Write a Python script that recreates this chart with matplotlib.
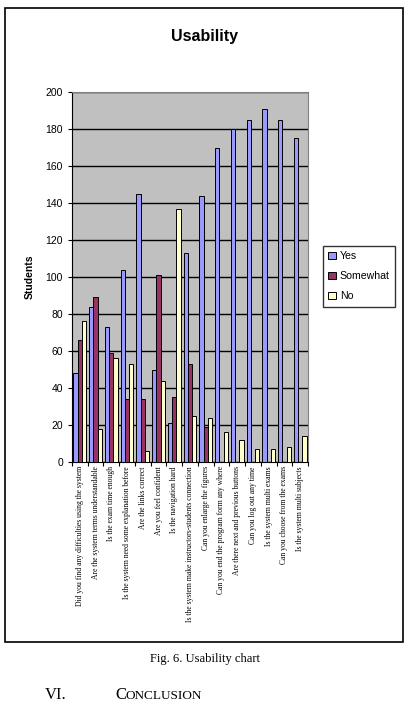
import matplotlib.pyplot as plt
import numpy as np

questions = ['Did you find any difficulties using the system',
             'Are the system terms understandable',
             'Is the exam time enough',
             'Is the system need some explanation before',
             'Are the links correct',
             'Are you feel confident',
             'Is the navigation hard',
             'Is the system make instructors-students connection',
             'Can you enlarge the figures',
             'Can you end the program form any where',
             'Are there next and previous buttons',
             'Can you log out any time',
             'Is the system multi exams',
             'Can you choose from the exams',
             'Is the system multi subjects']
yes = [48, 84, 73, 104, 145, 50, 21, 113, 144, 170, 180, 185, 191, 185, 175]
somewhat = [66, 89, 59, 34, 34, 101, 35, 53, 19, 0, 0, 0, 0, 0, 0]
no = [76, 18, 56, 53, 6, 44, 137, 25, 24, 16, 12, 7, 7, 8, 14]

fig = plt.figure(figsize=(4.16, 7.06), dpi=100)

# outer frame of the chart
fig.patches.append(plt.Rectangle((5/416, 1-642/706), 398/416, 634/706, transform=fig.transFigure,
                                 fill=False, edgecolor='black', linewidth=1.2))

ax = fig.add_axes([72/416, 1-462/706, 236/416, 370/706])
ax.set_facecolor('#C0C0C0')

x = np.arange(len(questions)) + 0.5
w = 0.27
ax.bar(x - w, yes, w, color='#9999FF', edgecolor='black', linewidth=0.7, label='Yes', zorder=3)
ax.bar(x, somewhat, w, color='#993366', edgecolor='black', linewidth=0.7, label='Somewhat', zorder=3)
ax.bar(x + w, no, w, color='#FFFFCC', edgecolor='black', linewidth=0.7, label='No', zorder=3)

ax.set_xlim(0, len(questions))
ax.set_ylim(0, 200)
ax.set_yticks(range(0, 201, 20))
ax.yaxis.grid(True, color='black', linewidth=1.0, zorder=1)
ax.set_axisbelow(True)
ax.tick_params(axis='y', labelsize=7.5, length=3, direction='out')
for t in ax.get_yticklabels():
    t.set_family('Liberation Sans')

# ticks sit between the categories, labels at the centres
ax.set_xticks(np.arange(len(questions) + 1), minor=False)
ax.set_xticklabels([])
ax.set_xticks(x, minor=True)
ax.set_xticklabels(questions, minor=True, rotation=90, fontsize=5.5, family='Liberation Serif', va='top')
ax.tick_params(axis='x', which='major', length=3, direction='out')
ax.tick_params(axis='x', which='minor', length=0, pad=3)

ax.spines['top'].set_color('#808080')
ax.spines['right'].set_color('#808080')

ax.set_ylabel('Students', fontsize=7.5, fontweight='bold', family='Liberation Sans', labelpad=8)

fig.text(205/416, 1-37/706, 'Usability', ha='center', va='center', fontsize=11.5, fontweight='bold',
         family='Liberation Sans')

leg = ax.legend(loc='upper left', bbox_to_anchor=(323/416, 1-246/706), bbox_transform=fig.transFigure,
                frameon=True, fancybox=False, edgecolor='black', handlelength=0.7,
                handleheight=0.7, handletextpad=0.4, borderpad=0.5, borderaxespad=0.0,
                labelspacing=0.95, prop={'family': 'Liberation Sans', 'size': 7.6})
leg.get_frame().set_linewidth(1.0)

fig.text(205/416, 1-659/706, 'Fig. 6. Usability chart', ha='center', va='center', fontsize=9,
         family='Liberation Serif')
fig.text(45/416, 1-699/706, 'VI.', ha='left', va='baseline', fontsize=12, family='Liberation Serif')
fig.text(115/416, 1-699/706, 'C', ha='left', va='baseline', fontsize=12, family='Liberation Serif')
fig.text(126/416, 1-699/706, 'ONCLUSION', ha='left', va='baseline', fontsize=9.5, family='Liberation Serif')

fig.savefig('out.png', dpi=100)
